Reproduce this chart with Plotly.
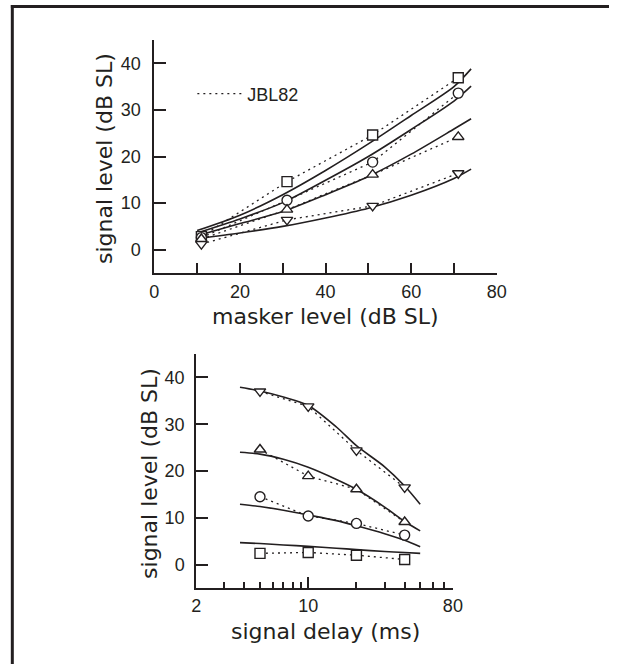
import plotly.graph_objects as go

W, H = 619, 664

# ---------------- data: top panel (signal level vs masker level) ----------------
masker_level = [11, 31, 51, 71]
top_square = [2.8, 14.6, 24.6, 36.9]
top_circle = [2.6, 10.6, 18.8, 33.6]
top_tri_up = [2.3, 8.6, 16.1, 24.2]
top_tri_down = [1.2, 6.4, 9.4, 16.4]

fit_masker = [10, 20, 30, 40, 50, 60, 70, 74]
fit_top_square = [4.1, 7.4, 11.8, 17.0, 22.7, 28.8, 35.0, 38.8]
fit_top_circle = [3.6, 6.6, 10.1, 14.9, 20.0, 25.8, 31.9, 35.1]
fit_top_tri_up = [3.0, 5.6, 8.2, 11.8, 15.7, 20.5, 25.9, 28.1]
fit_top_tri_down = [2.4, 3.6, 5.0, 6.8, 8.9, 11.7, 15.3, 17.3]

# ---------------- data: bottom panel (signal level vs signal delay) ----------------
signal_delay = [5, 10, 20, 40]
bot_tri_down = [37.0, 33.8, 24.4, 16.5]
bot_tri_up = [24.6, 18.9, 16.1, 9.1]
bot_circle = [14.5, 10.4, 8.8, 6.3]
bot_square = [2.4, 2.6, 2.0, 1.1]

fit_delay = [3.75, 5, 7, 10, 15, 20, 30, 40, 50]
fit_bot_tri_down = [37.9, 37.1, 35.8, 34.0, 29.4, 25.4, 20.9, 16.8, 12.9]
fit_bot_tri_up = [24.0, 23.6, 22.5, 20.8, 18.2, 16.1, 12.3, 9.2, 7.2]
fit_bot_circle = [12.9, 12.4, 11.6, 10.6, 9.4, 8.3, 6.6, 5.2, 3.8]
fit_bot_square = [4.7, 4.5, 4.2, 3.9, 3.5, 3.2, 2.8, 2.6, 2.4]

top_xticks = [0, 20, 40, 60, 80]
yticks = [0, 10, 20, 30, 40]
bot_xticks = [2, 10, 80]
bot_xminor = [3, 4, 5, 6, 7, 8, 9, 20, 30, 40, 50, 60, 70]

INK = "#231f20"
TICKFONT = dict(family="Liberation Sans, Arial, sans-serif", size=18, color=INK)
TITLEFONT = dict(family="DejaVu Sans, sans-serif", size=22, color=INK)

fig = go.Figure()

def fit_trace(x, y, xa, ya):
    fig.add_trace(go.Scatter(x=x, y=y, mode="lines", xaxis=xa, yaxis=ya,
                             line=dict(color=INK, width=1.6, shape="spline", smoothing=0.8),
                             showlegend=False, hoverinfo="skip"))

def data_trace(x, y, symbol, xa, ya):
    fig.add_trace(go.Scatter(x=x, y=y, mode="lines+markers", xaxis=xa, yaxis=ya,
                             line=dict(color=INK, width=1.3, dash="2px,4px"),
                             marker=dict(symbol=symbol, size=10, color="white",
                                         line=dict(color=INK, width=1.4)),
                             showlegend=False))

for yv in [fit_top_square, fit_top_circle, fit_top_tri_up, fit_top_tri_down]:
    fit_trace(fit_masker, yv, "x", "y")
for yv, sym in [(top_square, "square"), (top_circle, "circle"),
                (top_tri_up, "triangle-up"), (top_tri_down, "triangle-down")]:
    data_trace(masker_level, yv, sym, "x", "y")

for yv in [fit_bot_tri_down, fit_bot_tri_up, fit_bot_circle, fit_bot_square]:
    fit_trace(fit_delay, yv, "x2", "y2")
for yv, sym in [(bot_tri_down, "triangle-down"), (bot_tri_up, "triangle-up"),
                (bot_circle, "circle"), (bot_square, "square")]:
    data_trace(signal_delay, yv, sym, "x2", "y2")

# legend entry
fig.add_trace(go.Scatter(x=[None], y=[None], mode="lines", name="JBL82",
                         line=dict(color=INK, width=1.3, dash="2px,4px"),
                         xaxis="x", yaxis="y", showlegend=True))

def px_x(p):
    return p / W

def px_y(p):
    return 1 - p / H

axis_common = dict(showline=True, linewidth=2, linecolor=INK, showgrid=False,
                   zeroline=False, ticks="inside", tickwidth=2, tickcolor=INK,
                   tickfont=TICKFONT, mirror=False)

fig.update_layout(
    width=W, height=H,
    margin=dict(l=0, r=0, t=0, b=0),
    paper_bgcolor="white", plot_bgcolor="white",
    xaxis=dict(axis_common, domain=[px_x(153), px_x(504)], range=[0, 80],
               tickmode="array", tickvals=top_xticks, ticklen=10, anchor="y",
               ticklabelstandoff=1,
               minor=dict(tickmode="array", tickvals=[10, 30, 50, 70], ticks="inside",
                          ticklen=10, tickwidth=2, tickcolor=INK)),
    yaxis=dict(axis_common, domain=[px_y(273), px_y(40)], range=[-5, 45],
               tickmode="array", tickvals=yticks, ticklen=12, anchor="x",
               ticklabelstandoff=8),
    xaxis2=dict(axis_common, domain=[px_x(196), px_x(459)], type="log",
                range=[0.30103, 1.90309], tickmode="array", tickvals=bot_xticks,
                ticktext=[str(v) for v in bot_xticks], ticklen=11, anchor="y2",
                ticklabelstandoff=0,
                minor=dict(tickmode="array", tickvals=bot_xminor, ticks="inside",
                           ticklen=6, tickwidth=2, tickcolor=INK)),
    yaxis2=dict(axis_common, domain=[px_y(588), px_y(354)], range=[-5, 45],
                tickmode="array", tickvals=yticks, ticklen=12, anchor="x2",
                ticklabelstandoff=6),
    showlegend=True,
    legend=dict(x=px_x(192), y=px_y(94), xanchor="left", yanchor="middle",
                bgcolor="rgba(0,0,0,0)", font=TICKFONT, itemwidth=45),
    annotations=[
        dict(text="signal level (dB SL)", xref="paper", yref="paper",
             x=px_x(101.5), y=px_y(159), textangle=-90, showarrow=False,
             font=TITLEFONT, xanchor="center", yanchor="middle"),
        dict(text="masker level (dB SL)", xref="paper", yref="paper",
             x=px_x(328.5), y=px_y(317), showarrow=False,
             font=TITLEFONT, xanchor="center", yanchor="middle"),
        dict(text="signal level (dB SL)", xref="paper", yref="paper",
             x=px_x(147.5), y=px_y(473), textangle=-90, showarrow=False,
             font=TITLEFONT, xanchor="center", yanchor="middle"),
        dict(text="signal delay (ms)", xref="paper", yref="paper",
             x=px_x(328), y=px_y(631), showarrow=False,
             font=TITLEFONT, xanchor="center", yanchor="middle"),
    ],
    shapes=[
        dict(type="line", xref="paper", yref="paper", x0=px_x(7.5), x1=px_x(7.5),
             y0=0, y1=px_y(5), line=dict(color=INK, width=3)),
        dict(type="line", xref="paper", yref="paper", x0=px_x(6), x1=1,
             y0=px_y(6.5), y1=px_y(6.5), line=dict(color=INK, width=3)),
    ],
)

fig.write_html("out.html", config={"displayModeBar": False},
               post_script="document.body.style.margin='0';")
